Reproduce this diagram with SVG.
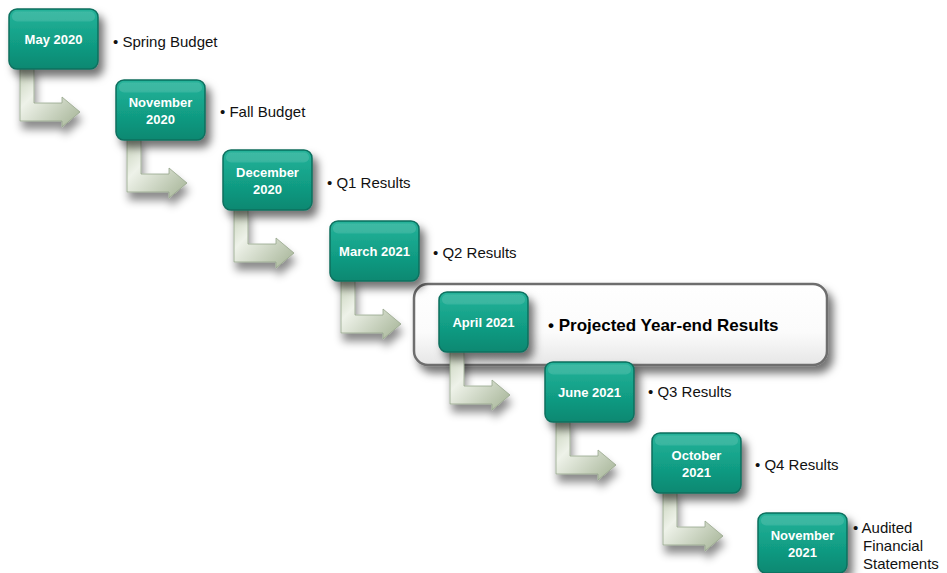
<svg xmlns="http://www.w3.org/2000/svg" width="947" height="573" viewBox="0 0 947 573">
<defs>
  <linearGradient id="boxg" x1="0" y1="0" x2="0" y2="1">
    <stop offset="0" stop-color="#27b39a"/>
    <stop offset="0.5" stop-color="#12a087"/>
    <stop offset="1" stop-color="#0d8871"/>
  </linearGradient>
  <linearGradient id="arrg" x1="0" y1="0" x2="1" y2="1">
    <stop offset="0" stop-color="#c3cfb6"/>
    <stop offset="0.35" stop-color="#eef2e9"/>
    <stop offset="1" stop-color="#a3b294"/>
  </linearGradient>
  <linearGradient id="hlg" x1="0" y1="0" x2="0" y2="1">
    <stop offset="0" stop-color="#ffffff"/>
    <stop offset="0.6" stop-color="#fbfbfb"/>
    <stop offset="1" stop-color="#e6e6e6"/>
  </linearGradient>
  <filter id="sh" x="-30%" y="-30%" width="170%" height="170%">
    <feDropShadow dx="5" dy="7" stdDeviation="4.5" flood-color="#000" flood-opacity="0.55"/>
  </filter>
  <filter id="ash" x="-40%" y="-40%" width="190%" height="190%">
    <feDropShadow dx="2" dy="8" stdDeviation="4.5" flood-color="#000" flood-opacity="0.45"/>
  </filter>
  <path id="arrow" d="M11,56 L25,56 L25,94 L53,94 L53,88 L71,103 L53,118 L53,112 L11,112 Z"/>
  <g id="boxshape">
    <rect x="0" y="0" width="89" height="60" rx="8" fill="url(#boxg)" stroke="#0b6f5e" stroke-width="1.5" filter="url(#sh)"/>
    <rect x="3" y="2.5" width="83" height="10" rx="5" fill="#ffffff" opacity="0.12"/>
  </g>
</defs>
<style>
  .bt { font-family: "Liberation Sans", Arial, sans-serif; font-weight: bold; font-size: 13px; fill: #ffffff; text-anchor: middle; }
  .lb { font-family: "Liberation Sans", Arial, sans-serif; font-size: 15px; fill: #111111; }
  .lbb { font-family: "Liberation Sans", Arial, sans-serif; font-size: 17px; font-weight: bold; fill: #000000; }
  .arr { fill: url(#arrg); stroke: #96a58a; stroke-width: 0.8; filter: url(#ash); }
</style>
<rect width="947" height="573" fill="#ffffff"/>

<g id="highlight">
  <rect x="414" y="284" width="413" height="81" rx="14" fill="url(#hlg)" stroke="#6e6e6e" stroke-width="2.5" filter="url(#sh)"/>
</g>

<g id="connectors">
  <use href="#arrow" class="arr" transform="translate(9,9)"/>
  <use href="#arrow" class="arr" transform="translate(116,80)"/>
  <use href="#arrow" class="arr" transform="translate(223,150)"/>
  <use href="#arrow" class="arr" transform="translate(330,221)"/>
  <use href="#arrow" class="arr" transform="translate(439,292)"/>
  <use href="#arrow" class="arr" transform="translate(545,362)"/>
  <use href="#arrow" class="arr" transform="translate(652,433)"/>
</g>

<g id="n1" transform="translate(9,9)">
  <use href="#boxshape"/>
  <text class="bt" x="44.5" y="35">May 2020</text>
</g>
<g id="n2" transform="translate(116,80)">
  <use href="#boxshape"/>
  <text class="bt" x="44.5" y="27">November</text>
  <text class="bt" x="44.5" y="44">2020</text>
</g>
<g id="n3" transform="translate(223,150)">
  <use href="#boxshape"/>
  <text class="bt" x="44.5" y="27">December</text>
  <text class="bt" x="44.5" y="44">2020</text>
</g>
<g id="n4" transform="translate(330,221)">
  <use href="#boxshape"/>
  <text class="bt" x="44.5" y="35">March 2021</text>
</g>
<g id="n5" transform="translate(439,292)">
  <use href="#boxshape"/>
  <text class="bt" x="44.5" y="35">April 2021</text>
</g>
<g id="n6" transform="translate(545,362)">
  <use href="#boxshape"/>
  <text class="bt" x="44.5" y="35">June 2021</text>
</g>
<g id="n7" transform="translate(652,433)">
  <use href="#boxshape"/>
  <text class="bt" x="44.5" y="27">October</text>
  <text class="bt" x="44.5" y="44">2021</text>
</g>
<g id="n8" transform="translate(758,513)">
  <use href="#boxshape"/>
  <text class="bt" x="44.5" y="27">November</text>
  <text class="bt" x="44.5" y="44">2021</text>
</g>

<g id="labels">
  <text class="lb" x="113" y="47">• Spring Budget</text>
  <text class="lb" x="220" y="117">• Fall Budget</text>
  <text class="lb" x="327" y="188">• Q1 Results</text>
  <text class="lb" x="433" y="258">• Q2 Results</text>
  <text class="lbb" x="548" y="331">• Projected Year-end Results</text>
  <text class="lb" x="648" y="397">• Q3 Results</text>
  <text class="lb" x="755" y="470">• Q4 Results</text>
  <text class="lb" x="853" y="533">• Audited</text>
  <text class="lb" x="863" y="551">Financial</text>
  <text class="lb" x="863" y="569">Statements</text>
</g>
</svg>
